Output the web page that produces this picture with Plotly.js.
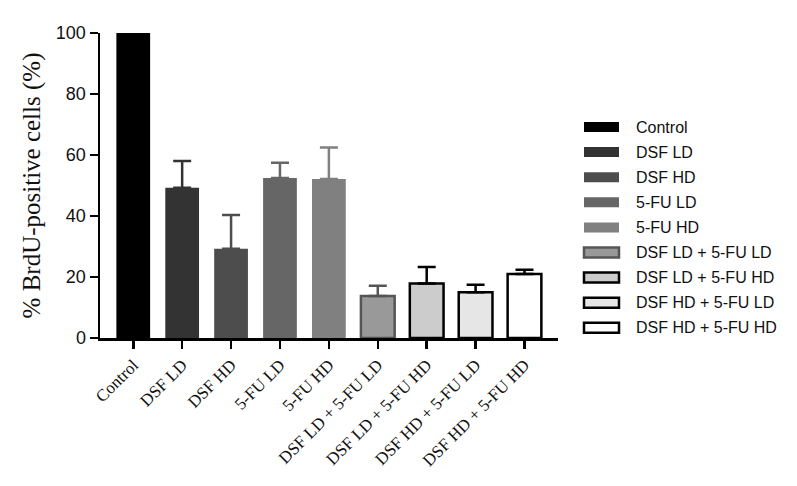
<!DOCTYPE html>
<html>
<head>
<meta charset="utf-8">
<script src="https://cdn.plot.ly/plotly-3.0.1.min.js"></script>
<style>html,body{margin:0;padding:0;background:#fff;}#chart{width:797px;height:486px;}</style>
</head>
<body>
<div id="chart"></div>
<script>
// ---- data ----
const categories = ["Control", "DSF LD", "DSF HD", "5-FU LD", "5-FU HD",
  "DSF LD + 5-FU LD", "DSF LD + 5-FU HD", "DSF HD + 5-FU LD", "DSF HD + 5-FU HD"];
const values = [100, 49.3, 29.3, 52.5, 52.1, 13.8, 17.9, 15.0, 21.0];
const errorsUp = [0, 8.7, 11.0, 5.0, 10.4, 3.3, 5.4, 2.5, 1.4];
const yTicks = [0, 20, 40, 60, 80, 100];

// ---- styles ----
const fillColors = ["#000000", "#333333", "#4d4d4d", "#666666", "#808080", "#999999", "#cccccc", "#e6e6e6", "#ffffff"];
const lineColors = ["#000000", "#333333", "#4d4d4d", "#666666", "#808080", "#555555", "#000000", "#000000", "#000000"];
const lineWidths = [0, 0, 0, 0, 0, 2.5, 2.5, 2.5, 2.5];

const traces = categories.map((c, i) => ({
  type: 'bar',
  name: c,
  x: [c],
  y: [values[i]],
  width: 0.69,
  marker: {color: fillColors[i], line: {color: lineColors[i], width: lineWidths[i]}},
  error_y: errorsUp[i] > 0 ? {type: 'data', symmetric: false, array: [errorsUp[i]], arrayminus: [0],
    color: lineColors[i], thickness: 2.5, width: 9} : {visible: false},
  showlegend: false,
  hoverinfo: 'x+y'
}));

// plot area in pixels
const L = 100, R = 558, T = 33, B = 338;
const W = 797, H = 486;
const px2x = p => (p - L) / (R - L);
const py2y = p => (B - p) / (B - T);

// custom legend (wide keys like the reference)
const shapes = [];
const annotations = [];
categories.forEach((c, i) => {
  const cy = 127 + 25.1 * i;
  const lw = lineWidths[i] > 0 ? 2.5 : 0;
  shapes.push({
    type: 'rect', xref: 'paper', yref: 'paper',
    x0: px2x(584), x1: px2x(619), y0: py2y(cy + 5), y1: py2y(cy - 5),
    fillcolor: fillColors[i],
    line: {color: lineColors[i], width: lw}
  });
  annotations.push({
    xref: 'paper', yref: 'paper', x: px2x(634), y: py2y(cy),
    xanchor: 'left', yanchor: 'middle', showarrow: false,
    text: c, font: {family: 'Liberation Sans, Arial, sans-serif', size: 16, color: '#111'}
  });
});

const layout = {
  width: W, height: H,
  margin: {l: L, r: W - R, t: T, b: H - B, pad: 0},
  paper_bgcolor: '#fff', plot_bgcolor: '#fff',
  barmode: 'overlay',
  showlegend: false,
  xaxis: {
    type: 'category',
    categoryorder: 'array', categoryarray: categories,
    range: [-0.68, 8.685],
    showline: true, linecolor: '#000', linewidth: 2.5,
    ticks: 'outside', ticklen: 8, tickwidth: 2.5, tickcolor: '#000',
    tickangle: -45,
    tickfont: {family: 'Liberation Serif, Times New Roman, serif', size: 17, color: '#111'},
    showgrid: false, zeroline: false, fixedrange: true
  },
  yaxis: {
    range: [0, 100],
    tickvals: yTicks,
    ticktext: yTicks.map(String),
    showline: true, linecolor: '#000', linewidth: 2.5,
    ticks: 'outside', ticklen: 8, tickwidth: 2.5, tickcolor: '#000',
    tickfont: {family: 'Liberation Sans, Arial, sans-serif', size: 18, color: '#111'},
    showgrid: false, zeroline: false, fixedrange: true,
    title: {text: '% BrdU-positive cells (%)', standoff: 8,
      font: {family: 'Liberation Serif, Times New Roman, serif', size: 25, color: '#111'}}
  },
  shapes: shapes,
  annotations: annotations
};

Plotly.newPlot('chart', traces, layout, {displayModeBar: false, staticPlot: true});
</script>
</body>
</html>
